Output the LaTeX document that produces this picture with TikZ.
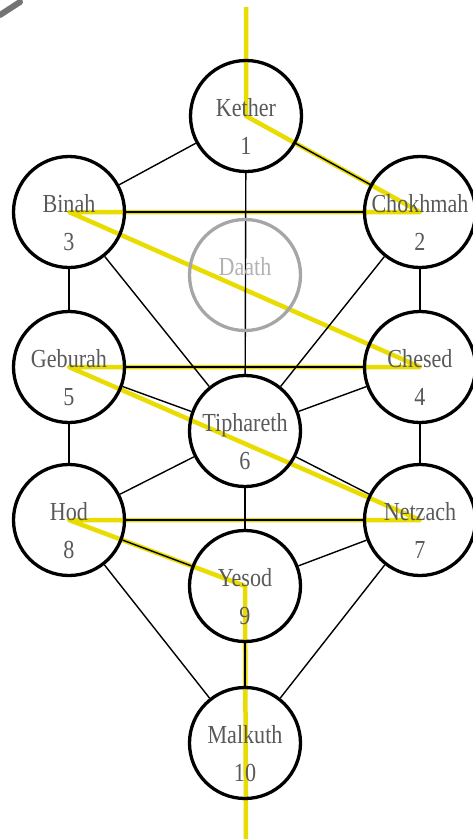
\documentclass[tikz,border=0pt]{standalone}
\usepackage{fontspec}
\setmainfont{Liberation Serif}[FakeStretch=0.85]
\usepackage{xcolor}
\usetikzlibrary{backgrounds}
\definecolor{flashyellow}{RGB}{232,220,0}

\begin{document}
\begin{tikzpicture}[
    x=1pt, y=-1pt, % pixel-like coordinates, y downwards
    line cap=round,
    sephira/.style={circle, draw=black, line width=3.3pt, minimum size=111pt, inner sep=0pt},
    hidden sephira/.style={sephira, draw=black!35},
    path line/.style={line width=1.4pt, draw=black},
    flash/.style={line width=4.5pt, draw=flashyellow, line join=round, line cap=butt},
    title text/.style={font=\fontsize{26}{30}\selectfont, text=black!65, text height=18pt, text depth=5pt, inner sep=0pt}
]
  \useasboundingbox (0,0) rectangle (473,839);

  % Sephiroth
  \node[sephira, label={[title text, yshift=6.5pt]center:Kether}, label={[title text, yshift=-31.5pt]center:1}] (kether) at (246,116) {};
  \node[sephira, label={[title text, yshift=6.5pt]center:Chokhmah}, label={[title text, yshift=-31.5pt]center:2}] (chokhmah) at (420,212) {};
  \node[sephira, label={[title text, yshift=6.5pt]center:Binah}, label={[title text, yshift=-31.5pt]center:3}] (binah) at (69,212) {};
  \node[hidden sephira, label={[title text, text=black!30, yshift=6.5pt]center:Daath}] (daath) at (245,275) {};
  \node[sephira, label={[title text, yshift=6.5pt]center:Chesed}, label={[title text, yshift=-31.5pt]center:4}] (chesed) at (420,367) {};
  \node[sephira, label={[title text, yshift=6.5pt]center:Geburah}, label={[title text, yshift=-31.5pt]center:5}] (geburah) at (69,367) {};
  \node[sephira, label={[title text, yshift=6.5pt]center:Tiphareth}, label={[title text, yshift=-31.5pt]center:6}] (tiphareth) at (245,431) {};
  \node[sephira, label={[title text, yshift=6.5pt]center:Netzach}, label={[title text, yshift=-31.5pt]center:7}] (netzach) at (420,520) {};
  \node[sephira, label={[title text, yshift=6.5pt]center:Hod}, label={[title text, yshift=-31.5pt]center:8}] (hod) at (69,520) {};
  \node[sephira, label={[title text, yshift=6.5pt]center:Yesod}, label={[title text, yshift=-31.5pt]center:9}] (yesod) at (245,586) {};
  \node[sephira, label={[title text, yshift=6.5pt]center:Malkuth}, label={[title text, yshift=-31.5pt]center:10}] (malkuth) at (245,743) {};

  % Free ends of the lightning flash
  \coordinate (flash top) at (246,7);
  \coordinate (flash bottom) at (246,839);

  \begin{scope}[on background layer]
    % Lightning flash
    \draw[flash] (flash top) -- (kether.center) -- (chokhmah.center) -- (binah.center)
      -- (chesed.center) -- (geburah.center) -- (netzach.center) -- (hod.center)
      -- (yesod.center) -- (flash bottom);

    % Paths
    \draw[path line] (kether) -- (binah);
    \draw[path line] (kether) -- (chokhmah);
    \draw[path line] (kether) -- (tiphareth);
    \draw[path line] (binah) -- (chokhmah);
    \draw[path line] (binah) -- (geburah);
    \draw[path line] (binah) -- (tiphareth);
    \draw[path line] (chokhmah) -- (chesed);
    \draw[path line] (chokhmah) -- (tiphareth);
    \draw[path line] (geburah) -- (chesed);
    \draw[path line] (geburah) -- (tiphareth);
    \draw[path line] (geburah) -- (hod);
    \draw[path line] (chesed) -- (tiphareth);
    \draw[path line] (chesed) -- (netzach);
    \draw[path line] (tiphareth) -- (hod);
    \draw[path line] (tiphareth) -- (netzach);
    \draw[path line] (tiphareth) -- (yesod);
    \draw[path line] (hod) -- (netzach);
    \draw[path line] (hod) -- (yesod);
    \draw[path line] (netzach) -- (yesod);
    \draw[path line] (hod) -- (malkuth);
    \draw[path line] (netzach) -- (malkuth);
    \draw[path line] (yesod) -- (malkuth);
  \end{scope}

  % corner fragment
  \draw[black!55, line width=6pt] (0,15) -- (20,2);
\end{tikzpicture}
\end{document}
